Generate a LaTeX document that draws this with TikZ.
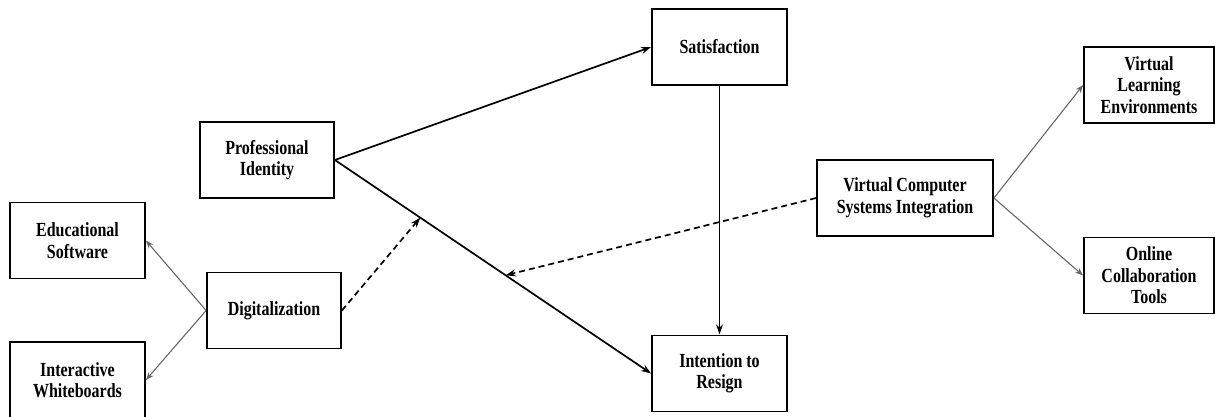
\documentclass[tikz,border=0pt]{standalone}
\usepackage{fontspec}
\setmainfont{Liberation Serif}
\usetikzlibrary{arrows.meta,calc}

\begin{document}
\begin{tikzpicture}[x=1pt,y=-1pt,construct/.style={draw,line width=1.8pt,fill=white,yscale=1.25,transform shape,minimum height=60.8pt,inner sep=2pt,align=center,font=\bfseries\fontsize{16}{17.2}\selectfont},effect/.style={line width=1.7pt,-{Stealth[length=10pt,width=7pt]}},moderation/.style={effect,dash pattern=on 6pt off 4pt},facet/.style={line width=1.1pt,draw=black!60,-{Stealth[length=8pt,width=6pt]}}]
\useasboundingbox (0,0) rectangle (1215,416);
\node[construct,minimum width=135pt] (sat) at (719.5,47) {Satisfaction};
\node[construct,minimum width=134pt] (pi) at (267,160) {Professional\\Identity};
\node[construct,minimum width=135pt] (es) at (77.5,240.5) {Educational\\Software};
\node[construct,minimum width=134pt] (dig) at (274,310.5) {Digitalization};
\node[construct,minimum width=135pt] (iw) at (77.5,380) {Interactive\\Whiteboards};
\node[construct,minimum width=135pt] (ir) at (719.5,373.5) {Intention to\\Resign};
\node[construct,minimum width=176pt] (vcsi) at (905,198) {Virtual Computer\\Systems Integration};
\node[construct,minimum width=130pt] (vle) at (1149,85) {Virtual\\Learning\\Environments};
\node[construct,minimum width=130pt] (oct) at (1149,275.5) {Online\\Collaboration\\Tools};
\coordinate (m1) at ($(pi.east)!0.27!(ir.west)$);
\coordinate (m2) at ($(pi.east)!0.54!(ir.west)$);
\draw[effect] (pi.east) -- (sat.west);
\draw[effect] (pi.east) -- (ir.west);
\draw[effect] (sat.south) -- (ir.north);
\draw[moderation] (dig.east) -- (m1);
\draw[moderation] (vcsi.west) -- (m2);
\draw[facet] (dig.west) -- (es.east);
\draw[facet] (dig.west) -- (iw.east);
\draw[facet] (vcsi.east) -- (vle.west);
\draw[facet] (vcsi.east) -- (oct.west);
\end{tikzpicture}
\end{document}
